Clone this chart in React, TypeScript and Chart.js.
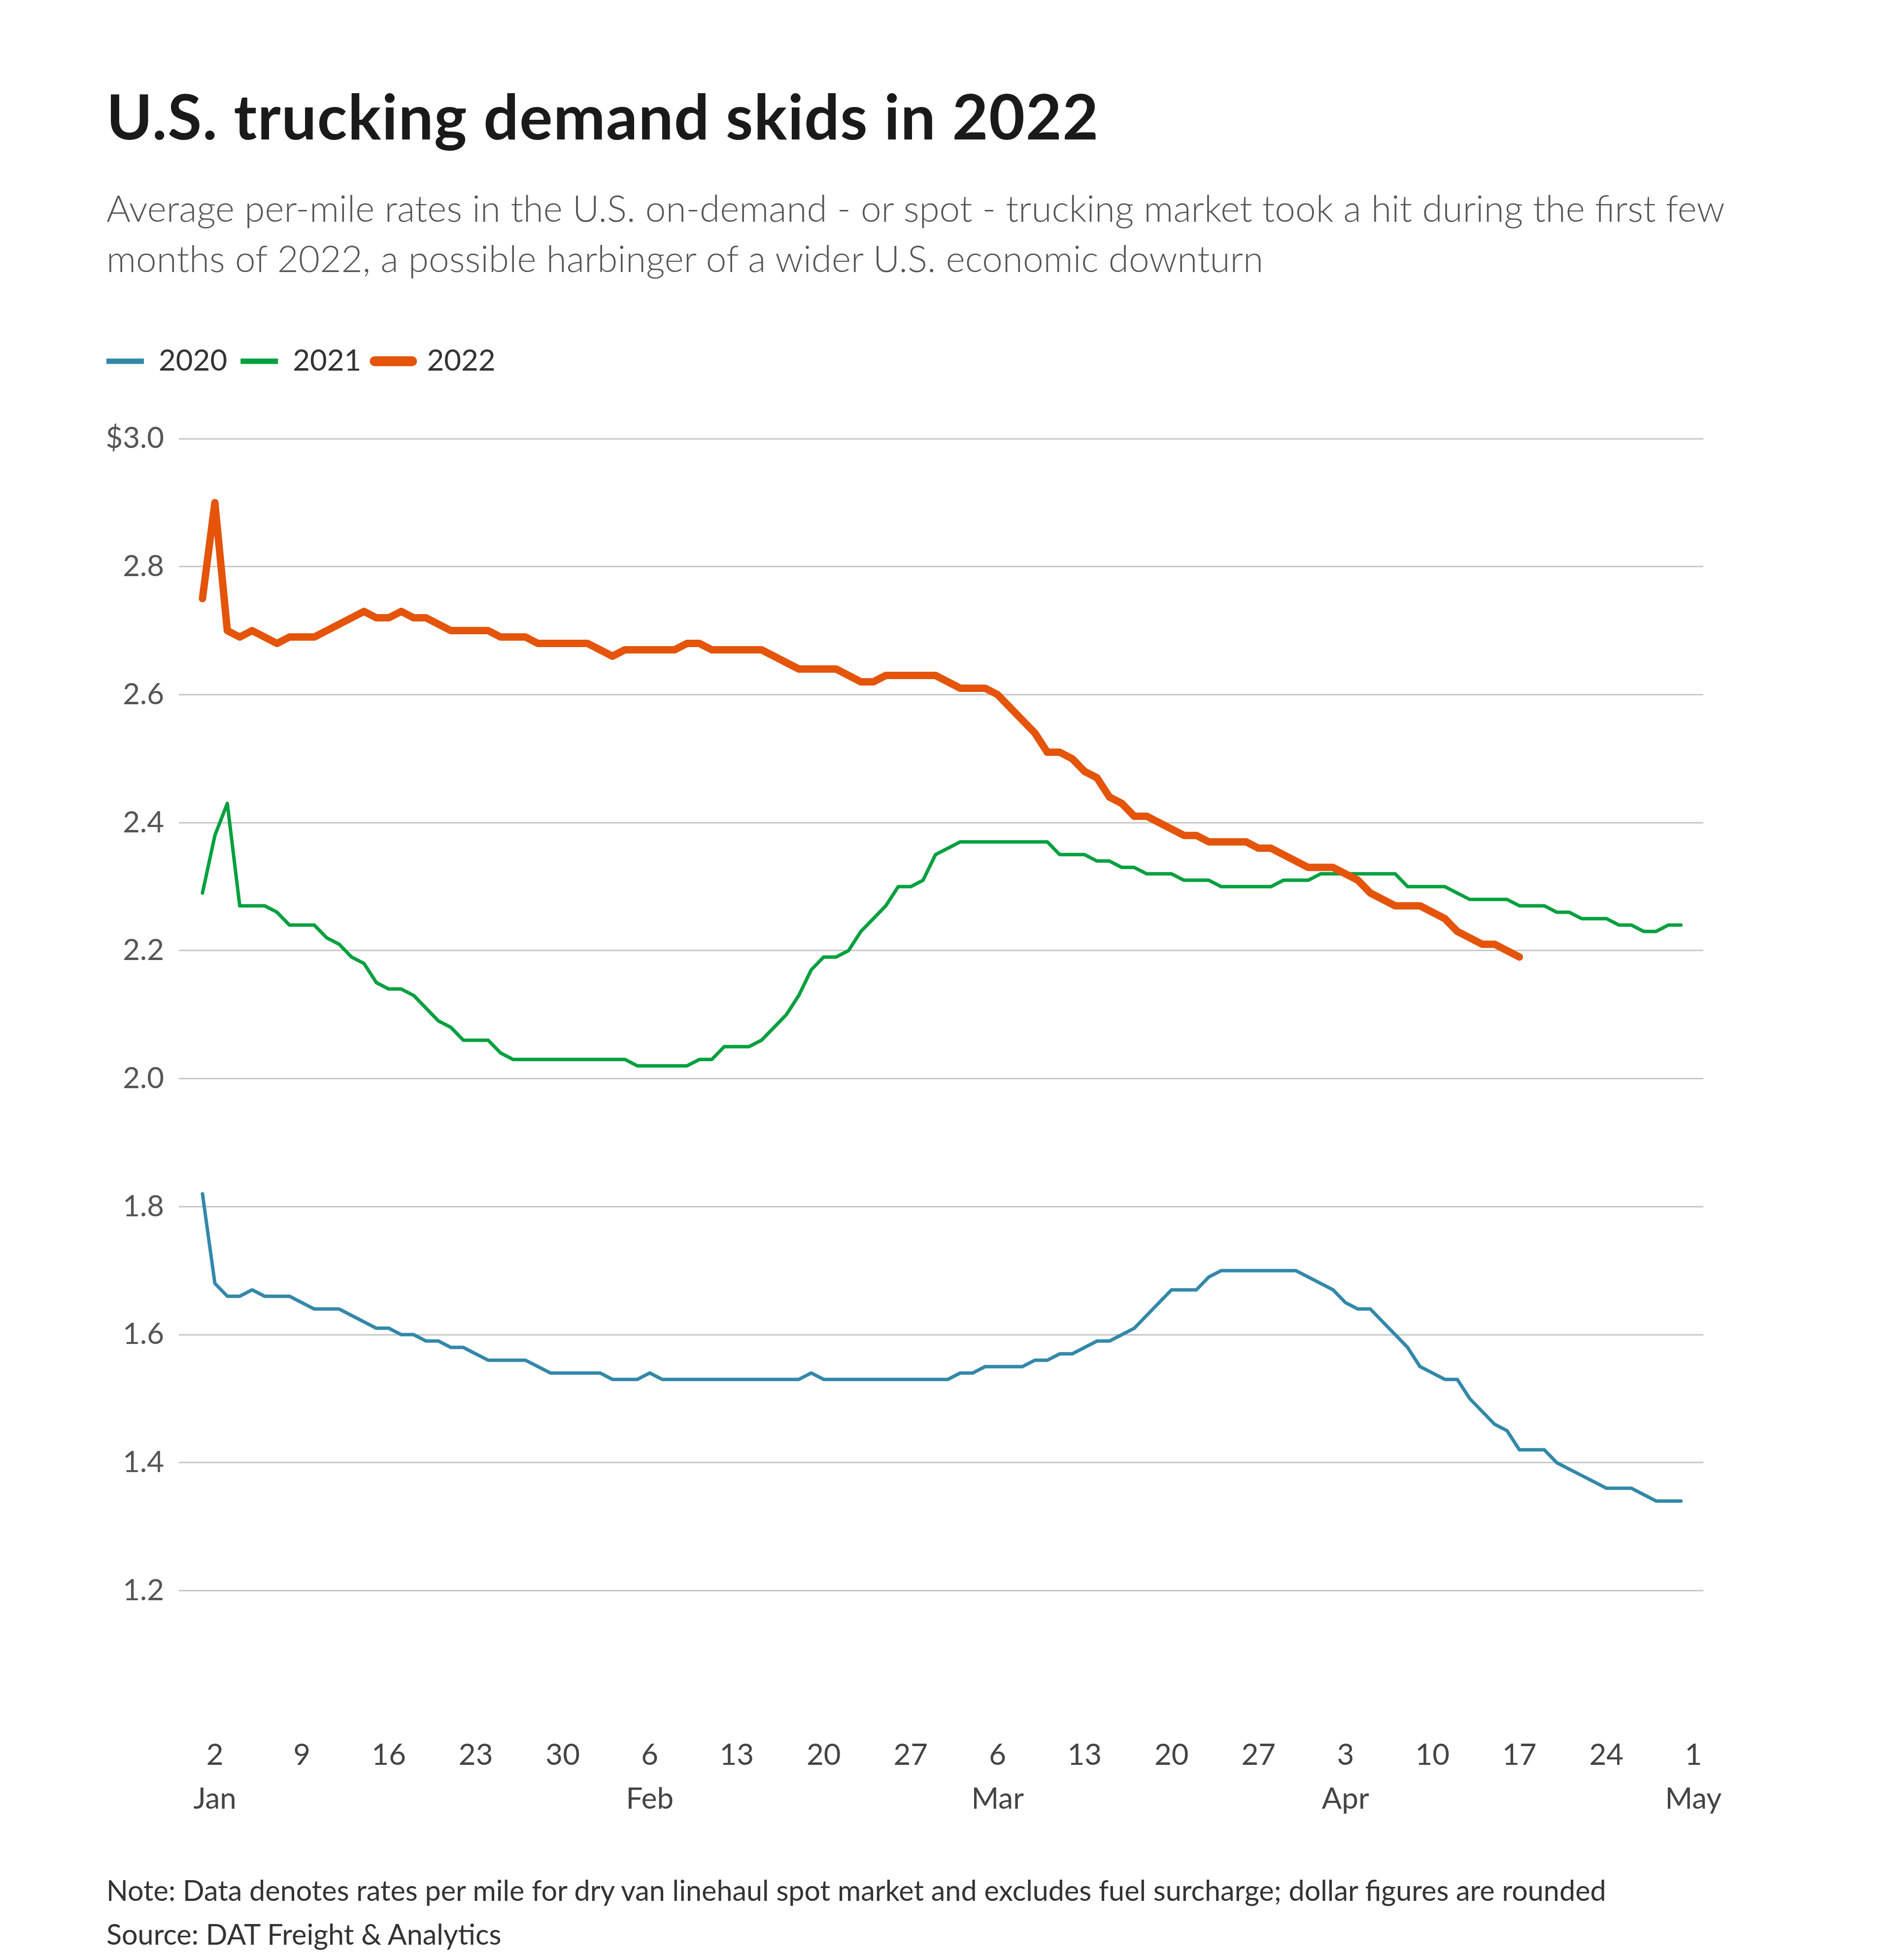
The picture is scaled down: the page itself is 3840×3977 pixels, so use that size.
import React, { useEffect, useRef } from 'react';
import { Chart, registerables } from 'chart.js';

Chart.register(...registerables);

// ---------- text ----------
const TITLE = 'U.S. trucking demand skids in 2022';
const SUBTITLE_LINES = [
  'Average per-mile rates in the U.S. on-demand - or spot - trucking market took a hit during the first few',
  'months of 2022, a possible harbinger of a wider U.S. economic downturn',
];
const NOTE = 'Note: Data denotes rates per mile for dry van linehaul spot market and excludes fuel surcharge; dollar figures are rounded';
const SOURCE = 'Source: DAT Freight & Analytics';

// ---------- data (daily values, index 0 = Jan 1) ----------
const SERIES_NAMES = ['2020', '2021', '2022'];

const RATES_2020 = [
  1.82, 1.68, 1.66, 1.66, 1.67, 1.66, 1.66, 1.66, 1.65, 1.64,
  1.64, 1.64, 1.63, 1.62, 1.61, 1.61, 1.60, 1.60, 1.59, 1.59,
  1.58, 1.58, 1.57, 1.56, 1.56, 1.56, 1.56, 1.55, 1.54, 1.54,
  1.54, 1.54, 1.54, 1.53, 1.53, 1.53, 1.54, 1.53, 1.53, 1.53,
  1.53, 1.53, 1.53, 1.53, 1.53, 1.53, 1.53, 1.53, 1.53, 1.54,
  1.53, 1.53, 1.53, 1.53, 1.53, 1.53, 1.53, 1.53, 1.53, 1.53,
  1.53, 1.54, 1.54, 1.55, 1.55, 1.55, 1.55, 1.56, 1.56, 1.57,
  1.57, 1.58, 1.59, 1.59, 1.60, 1.61, 1.63, 1.65, 1.67, 1.67,
  1.67, 1.69, 1.70, 1.70, 1.70, 1.70, 1.70, 1.70, 1.70, 1.69,
  1.68, 1.67, 1.65, 1.64, 1.64, 1.62, 1.60, 1.58, 1.55, 1.54,
  1.53, 1.53, 1.50, 1.48, 1.46, 1.45, 1.42, 1.42, 1.42, 1.40,
  1.39, 1.38, 1.37, 1.36, 1.36, 1.36, 1.35, 1.34, 1.34, 1.34,
];

const RATES_2021 = [
  2.29, 2.38, 2.43, 2.27, 2.27, 2.27, 2.26, 2.24, 2.24, 2.24,
  2.22, 2.21, 2.19, 2.18, 2.15, 2.14, 2.14, 2.13, 2.11, 2.09,
  2.08, 2.06, 2.06, 2.06, 2.04, 2.03, 2.03, 2.03, 2.03, 2.03,
  2.03, 2.03, 2.03, 2.03, 2.03, 2.02, 2.02, 2.02, 2.02, 2.02,
  2.03, 2.03, 2.05, 2.05, 2.05, 2.06, 2.08, 2.10, 2.13, 2.17,
  2.19, 2.19, 2.20, 2.23, 2.25, 2.27, 2.30, 2.30, 2.31, 2.35,
  2.36, 2.37, 2.37, 2.37, 2.37, 2.37, 2.37, 2.37, 2.37, 2.35,
  2.35, 2.35, 2.34, 2.34, 2.33, 2.33, 2.32, 2.32, 2.32, 2.31,
  2.31, 2.31, 2.30, 2.30, 2.30, 2.30, 2.30, 2.31, 2.31, 2.31,
  2.32, 2.32, 2.32, 2.32, 2.32, 2.32, 2.32, 2.30, 2.30, 2.30,
  2.30, 2.29, 2.28, 2.28, 2.28, 2.28, 2.27, 2.27, 2.27, 2.26,
  2.26, 2.25, 2.25, 2.25, 2.24, 2.24, 2.23, 2.23, 2.24, 2.24,
];

const RATES_2022 = [
  2.75, 2.90, 2.70, 2.69, 2.70, 2.69, 2.68, 2.69, 2.69, 2.69,
  2.70, 2.71, 2.72, 2.73, 2.72, 2.72, 2.73, 2.72, 2.72, 2.71,
  2.70, 2.70, 2.70, 2.70, 2.69, 2.69, 2.69, 2.68, 2.68, 2.68,
  2.68, 2.68, 2.67, 2.66, 2.67, 2.67, 2.67, 2.67, 2.67, 2.68,
  2.68, 2.67, 2.67, 2.67, 2.67, 2.67, 2.66, 2.65, 2.64, 2.64,
  2.64, 2.64, 2.63, 2.62, 2.62, 2.63, 2.63, 2.63, 2.63, 2.63,
  2.62, 2.61, 2.61, 2.61, 2.60, 2.58, 2.56, 2.54, 2.51, 2.51,
  2.50, 2.48, 2.47, 2.44, 2.43, 2.41, 2.41, 2.40, 2.39, 2.38,
  2.38, 2.37, 2.37, 2.37, 2.37, 2.36, 2.36, 2.35, 2.34, 2.33,
  2.33, 2.33, 2.32, 2.31, 2.29, 2.28, 2.27, 2.27, 2.27, 2.26,
  2.25, 2.23, 2.22, 2.21, 2.21, 2.20, 2.19,
];

// ---------- axis ticks ----------
const X_TICK_DAYS = [1, 8, 15, 22, 29, 36, 43, 50, 57, 64, 71, 78, 85, 92, 99, 106, 113, 120];
const X_TICK_DAY_LABELS = ['2', '9', '16', '23', '30', '6', '13', '20', '27', '6', '13', '20', '27', '3', '10', '17', '24', '1'];
const X_TICK_MONTH_LABELS = ['Jan', '', '', '', '', 'Feb', '', '', '', 'Mar', '', '', '', 'Apr', '', '', '', 'May'];
const Y_TICK_VALUES = [1.2, 1.4, 1.6, 1.8, 2.0, 2.2, 2.4, 2.6, 2.8, 3.0];
const Y_TICK_LABELS = ['1.2', '1.4', '1.6', '1.8', '2.0', '2.2', '2.4', '2.6', '2.8', '$3.0'];

// ---------- styles ----------
const FONT = 'Lato, "Noto Sans", sans-serif';
const SERIES_COLORS = ['#3388a9', '#00a03e', '#e4540b'];
const SERIES_WIDTHS = [7, 7, 15];
const LEGEND_WIDTHS = [11, 11, 20];
const LEGEND_CAPS: CanvasLineCap[] = ['butt', 'butt', 'round'];
const LEGEND_GAP = 117;

const legendGapPlugin = {
  id: 'legendGap',
  beforeLayout(chart: any) {
    const lg = chart.legend;
    if (lg && !lg.__gapPatched) {
      const fit = lg.fit.bind(lg);
      lg.fit = () => {
        fit();
        lg.height += LEGEND_GAP;
      };
      lg.__gapPatched = true;
    }
  },
};

export default function App() {
  const canvasRef = useRef<HTMLCanvasElement | null>(null);

  useEffect(() => {
    if (!canvasRef.current) return;
    const allSeries = [RATES_2020, RATES_2021, RATES_2022];
    const chart = new Chart(canvasRef.current, {
      type: 'line',
      data: {
        datasets: allSeries.map((vals, i) => ({
          label: SERIES_NAMES[i],
          data: vals.map((v, d) => ({ x: d, y: v })),
          borderColor: SERIES_COLORS[i],
          backgroundColor: SERIES_COLORS[i],
          borderWidth: SERIES_WIDTHS[i],
          pointRadius: 0,
          pointHoverRadius: 0,
          tension: 0,
          borderJoinStyle: 'round' as const,
          borderCapStyle: 'round' as const,
          order: 2 - i,
          fill: false,
        })),
      },
      options: {
        animation: false,
        responsive: true,
        maintainAspectRatio: false,
        devicePixelRatio: 1,
        layout: { padding: { left: 181, right: 375, top: 36, bottom: 43.5 } },
        plugins: {
          tooltip: { enabled: false },
          title: { display: false },
          legend: {
            display: true,
            position: 'top',
            align: 'start',
            labels: {
              usePointStyle: true,
              pointStyleWidth: 76,
              padding: 27,
              color: '#333333',
              font: { family: FONT, size: 60 },
              generateLabels: (ch: any) =>
                ch.data.datasets.map((ds: any, i: number) => ({
                  text: ds.label,
                  fillStyle: SERIES_COLORS[i],
                  strokeStyle: SERIES_COLORS[i],
                  lineWidth: LEGEND_WIDTHS[i],
                  lineCap: LEGEND_CAPS[i],
                  pointStyle: 'line',
                  hidden: false,
                  datasetIndex: i,
                  fontColor: '#333333',
                })),
            },
          },
        },
        scales: {
          x: {
            type: 'linear',
            min: -1.9,
            max: 120.8,
            grid: { display: false, drawTicks: false },
            border: { display: false },
            afterBuildTicks: (scale: any) => {
              scale.ticks = X_TICK_DAYS.map((v) => ({ value: v }));
            },
            afterFit: (scale: any) => {
              scale.height = 469;
            },
            ticks: {
              autoSkip: false,
              maxRotation: 0,
              minRotation: 0,
              padding: 290,
              color: '#444444',
              font: { family: FONT, size: 60, lineHeight: 1.4833 },
              callback: (value: any) => {
                const idx = X_TICK_DAYS.indexOf(Number(value));
                if (idx < 0) return '';
                return [X_TICK_DAY_LABELS[idx], X_TICK_MONTH_LABELS[idx]];
              },
            },
          },
          y: {
            type: 'linear',
            min: 1.2,
            max: 3.0,
            grid: { display: true, color: '#c8c8c8', lineWidth: 3, drawTicks: false },
            border: { display: false },
            afterBuildTicks: (scale: any) => {
              scale.ticks = Y_TICK_VALUES.map((v) => ({ value: v }));
            },
            afterFit: (scale: any) => {
              scale.width = 174;
            },
            ticks: {
              padding: 30,
              color: '#555555',
              font: { family: FONT, size: 60 },
              callback: (_v: any, index: number) => Y_TICK_LABELS[index],
            },
          },
        },
      },
      plugins: [legendGapPlugin],
    } as any);
    return () => chart.destroy();
  }, []);

  return (
    <div
      style={{
        position: 'relative',
        width: 3824,
        height: 3961,
        background: '#ffffff',
        fontFamily: FONT,
        overflow: 'hidden',
      }}
    >
      <div
        style={{
          position: 'absolute',
          left: 208,
          top: 164,
          fontSize: 126,
          fontWeight: 700,
          letterSpacing: '1.5px',
          lineHeight: '126px',
          color: '#1a1a1a',
          whiteSpace: 'nowrap',
        }}
      >
        {TITLE}
      </div>
      <div
        style={{
          position: 'absolute',
          left: 208,
          top: 362,
          fontSize: 74.7,
          fontWeight: 300,
          lineHeight: '102px',
          color: '#555555',
          whiteSpace: 'nowrap',
        }}
      >
        {SUBTITLE_LINES.map((l) => (
          <div key={l}>{l}</div>
        ))}
      </div>
      <div style={{ position: 'absolute', left: 0, top: 632, width: 3824, height: 3100 }}>
        <canvas ref={canvasRef} />
      </div>
      <div
        style={{
          position: 'absolute',
          left: 208,
          top: 3782,
          fontSize: 57.5,
          lineHeight: '89px',
          color: '#333333',
          whiteSpace: 'nowrap',
        }}
      >
        <div>{NOTE}</div>
        <div>{SOURCE}</div>
      </div>
    </div>
  );
}
